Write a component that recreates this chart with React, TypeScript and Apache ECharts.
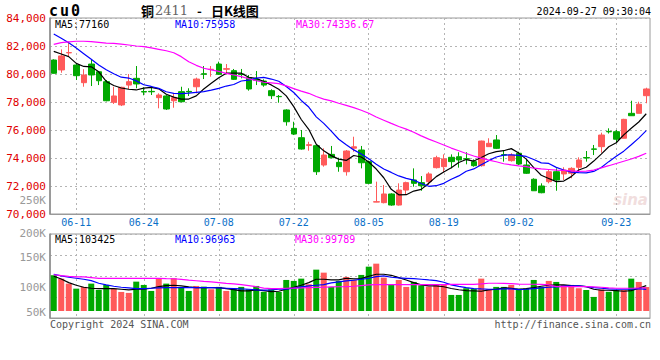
import React, { useEffect, useRef } from 'react';
import * as echarts from 'echarts';

const dates = [
  '06-05','06-06','06-07','06-11','06-12','06-13','06-14','06-17','06-18','06-19','06-20','06-21','06-24','06-25','06-26','06-27','06-28',
  '07-01','07-02','07-03','07-04','07-05','07-08','07-09','07-10','07-11','07-12','07-15','07-16','07-17','07-18','07-19','07-22','07-23','07-24','07-25','07-26','07-29','07-30','07-31',
  '08-01','08-02','08-05','08-06','08-07','08-08','08-09','08-12','08-13','08-14','08-15','08-16','08-19','08-20','08-21','08-22','08-23','08-26','08-27','08-28','08-29','08-30',
  '09-02','09-03','09-04','09-05','09-06','09-09','09-10','09-11','09-12','09-13','09-18','09-19','09-20','09-23','09-24','09-25','09-26','09-27',
];

const tickDates = ['06-11', '06-24', '07-08', '07-22', '08-05', '08-19', '09-02', '09-23'];

// [open, close, low, high]
const ohlc = [
  [81000,80050,80030,81050],[80290,81290,80090,81760],[81510,81530,81240,82310],[80640,79880,79570,80760],[79380,79930,79090,80340],
  [80710,79930,79140,81000],[80160,79520,79210,80210],[79450,78090,78050,79570],[77980,78430,77860,79090],[77790,79050,77710,79090],
  [79210,79450,78930,80000],[79690,79290,78980,80570],[78750,78710,78480,79050],[78760,78730,78500,79050],[78310,78500,77550,78620],
  [78430,77500,77430,78500],[78090,78310,77590,78620],[78740,78020,77980,79090],[78760,78720,78430,78980],[79090,79640,78620,79740],
  [80020,79980,79640,80570],[80320,80340,79810,80570],[80710,79980,79930,80880],[80340,80380,79980,80710],[80240,79620,79570,80360],
  [80000,79960,79690,80360],[79740,78930,78810,79930],[79600,79560,79210,80210],[79500,79210,79090,79620],[78810,78450,78210,78910],
  [78400,78380,77950,78500],[77430,76590,76310,77480],[76120,75710,75640,76590],[75450,74640,74600,76000],[74900,74950,74520,75160],
  [74880,73020,72790,74980],[73500,74210,73380,74690],[74260,74020,73980,74860],[73690,73380,73020,74020],[73020,74500,72740,74570],
  [74700,74800,74450,75520],[74570,73660,73260,74860],[73740,72190,72140,73810],[70850,70880,70840,72310],[70810,71430,70760,72070],
  [71430,70640,70590,71480],[70640,71710,70600,72190],[71710,72240,71360,72310],[72430,72190,71950,73260],[72240,72020,71660,72710],
  [72310,72860,72070,72980],[73310,74020,73250,74160],[73380,73930,72980,74260],[74050,73740,73260,74260],[74090,73860,73310,74410],
  [73950,73920,73550,74410],[73740,73450,73380,73900],[73450,75210,73380,75240],[74810,75050,74800,75410],[75290,74690,74640,75640],
  [74240,74210,73740,74570],[73810,74210,73740,74340],[74340,73570,73500,74450],[73500,72910,72860,73910],[72480,71660,71650,72550],
  [72000,71520,71480,72190],[72310,73020,72190,73190],[73020,72430,71660,73260],[72860,73140,72430,73340],[72910,73260,72550,73340],
  [73340,73860,73140,74050],[74030,74000,73740,74500],[74650,74620,74210,74930],[74810,75640,74380,75810],[75900,75870,75750,76120],
  [75880,75340,75090,76000],[75410,76760,75400,76800],[77190,77020,77000,78090],[77190,77840,77190,78020],[78450,78930,77910,79020],
];

const ma5 = [
  81620,81430,81240,80760,80540,80510,80160,79470,79180,79000,
  78910,78860,78990,79050,78940,78550,78350,78210,78210,78440,
  78930,79340,79730,80060,80060,80060,79770,79690,79460,79220,
  78910,78440,77670,76750,76050,74980,74510,74170,73920,73830,
  74180,74070,73710,73210,72590,71760,71370,71380,71640,71760,
  72200,72670,73000,73310,73680,73890,73780,74040,74300,74460,
  74520,74670,74350,73920,73310,72770,72540,72310,72350,72670,
  73140,73340,73780,74280,74800,75090,75650,76130,76570,77160,
];
const ma10 = [
  82860,82560,82230,81850,81450,81050,80650,80300,80020,79770,
  79710,79510,79230,79110,78970,78730,78610,78600,78630,78690,
  78740,78850,78970,79140,79250,79500,79560,79710,79760,79640,
  79480,79110,78680,78110,77640,76940,76470,75920,75340,74940,
  74580,74290,73940,73560,73210,72970,72720,72540,72420,72180,
  71980,72020,72190,72480,72720,73050,73220,73520,73810,74070,
  74210,74230,74190,74110,73890,73650,73610,73330,73140,72990,
  72960,72940,73040,73320,73740,74120,74490,74950,75420,75958,
];
const ma30 = [
  82120,82240,82290,82340,82340,82310,82260,82210,82190,82140,
  82070,82000,81950,81860,81760,81660,81520,81240,80880,80620,
  80410,80290,80190,80050,79930,79810,79660,79520,79410,79370,
  79310,79150,78960,78780,78620,78390,78210,78080,77910,77760,
  77600,77410,77200,76930,76700,76470,76250,76060,75840,75580,
  75350,75140,74930,74710,74520,74320,74140,73990,73850,73730,
  73590,73510,73440,73380,73270,73220,73180,73130,73120,73080,
  73050,73060,73140,73300,73450,73610,73770,73930,74120,74337,
];

const volumes = [
  120700,115000,106700,98300,101200,106700,96200,104500,98300,92800,
  91200,110000,104500,94500,115700,106700,115700,100700,94500,102800,
  101700,97300,101200,94500,98300,101200,97300,102800,93000,97300,
  92800,112800,111200,115000,105700,130000,125000,101200,111200,117800,
  112800,121200,135000,140000,116700,105700,112800,101200,109500,104000,
  101700,105700,105000,87800,87800,99000,98000,115000,97300,101200,
  101200,104500,98300,98300,112800,101200,111200,109500,104500,104500,
  99000,96000,84500,97000,93000,95600,96000,115000,109500,101000,
];
const volMa5 = [
  119000,114500,108400,104000,100600,99000,98400,98400,98400,97300,
  96200,97300,97300,99000,101700,103400,104000,102800,101200,100000,
  100000,100000,100000,98400,96700,94500,94500,96200,95000,93400,
  94000,97300,100600,104000,108400,114000,114000,112800,112800,115600,
  114500,115000,119000,122300,122300,120600,116700,112800,108400,104500,
  102800,102800,101500,98500,96500,95000,94500,94000,96200,97300,
  99500,99000,97300,98400,100000,102300,104000,104500,104500,103400,
  102800,101700,97300,95600,95600,95000,94000,95000,99000,103425,
];
const volMa10 = [
  122300,119500,117300,115700,114000,111700,107300,104500,102300,100600,
  99500,98400,98400,99000,99500,100000,100000,100000,100000,100000,
  100000,100000,99500,99000,98400,97800,97300,96200,96000,96200,
  97300,97300,99000,101200,102800,104000,105000,107800,109500,111200,
  112300,114000,115600,118400,119500,117300,116200,115600,115000,114000,
  112800,111700,109000,104500,102000,100000,98400,97800,97300,97300,
  97800,97800,96700,97300,98400,99500,100600,101200,102500,102800,
  102800,101700,100000,99000,97800,97300,97300,97300,98400,96963,
];
const volMa30 = [
  121500,120000,118700,118100,117800,116700,115600,115600,115600,115600,
  115600,115600,115600,115600,115300,115000,114800,113700,112400,111500,
  110400,109500,108400,107000,106200,105000,103400,101500,99200,98400,
  98400,99000,99300,99500,100000,100300,100600,101200,101500,101700,
  102300,103400,104500,104900,104900,105000,105000,105000,105000,105000,
  105000,105000,105000,105400,105500,105500,105500,106200,107300,107300,
  107000,106700,106000,105600,105600,105300,104500,101700,101700,101700,
  101700,101700,101200,100600,99500,99000,99000,99000,99400,99789,
];

const headerCode = ['c', 'u', '0'];
const timestamp = '2024-09-27 09:30:04';
const priceMaLabels = ['MA5:77160', 'MA10:75958', 'MA30:74336.67'];
const volMaLabels = ['MA5:103425', 'MA10:96963', 'MA30:99789'];

const UP = '#ff5a5a';
const DOWN = '#00a800';
const MONO = "'DejaVu Sans Mono', monospace";
const DASH = { color: '#b4b4b4', type: [2, 3] as number[], width: 1 };
const MA_COLORS = ['#000000', '#0000ff', '#ff00ff'];

const isTick = (_i: number, v: string) => tickDates.indexOf(v) >= 0;

export default function App() {
  const ref = useRef<HTMLDivElement>(null);
  useEffect(() => {
    if (!ref.current) return;
    const chart = echarts.init(ref.current, null, { renderer: 'svg' });
    const lineS = (data: number[], color: string, x: number, y: number) => ({
      type: 'line', xAxisIndex: x, yAxisIndex: y, data, symbol: 'none', silent: true,
      lineStyle: { color, width: 1.2 }, z: 3,
    });
    const text = (t: string, x: number, y: number, fill: string, size = 10, align = 'left') => ({
      type: 'text', x, y, silent: true,
      style: { text: t, fill, font: `${size}px ${MONO}`, align, verticalAlign: 'middle' },
    });
    chart.setOption({
      animation: false,
      backgroundColor: '#fff',
      grid: [
        { left: 50, top: 18, width: 600, height: 196, show: true, borderColor: '#9a9a9a', borderWidth: 1 },
        { left: 50, top: 234, width: 600, height: 84, show: true, borderColor: '#9a9a9a', borderWidth: 1 },
        { left: 50, top: 234, width: 600, height: 77 },
        { left: 50, top: 227.7, width: 600, height: 90 },
      ],
      xAxis: [
        {
          type: 'category', gridIndex: 0, data: dates, boundaryGap: true,
          axisLine: { lineStyle: { color: '#9a9a9a' } }, axisTick: { show: false },
          axisLabel: { interval: isTick, color: '#0a70c8', fontSize: 10, fontFamily: MONO, margin: 3 },
          splitLine: { show: true, interval: isTick, alignWithLabel: true, lineStyle: DASH },
        },
        {
          type: 'category', gridIndex: 1, data: dates, boundaryGap: true,
          axisLine: { lineStyle: { color: '#9a9a9a' } }, axisTick: { show: false }, axisLabel: { show: false },
          splitLine: { show: true, interval: isTick, alignWithLabel: true, lineStyle: DASH },
        },
        { type: 'category', gridIndex: 2, data: dates, boundaryGap: true, show: false },
        { type: 'category', gridIndex: 3, data: dates, boundaryGap: true, show: false },
      ],
      yAxis: [
        {
          type: 'value', gridIndex: 0, min: 70000, max: 84000, interval: 2000,
          axisLine: { show: true, lineStyle: { color: '#8a8a8a', width: 1.5 } }, axisTick: { show: false },
          axisLabel: { color: '#e00000', fontSize: 11, fontFamily: MONO, margin: 4, padding: [0, 0, 3, 0] },
          splitLine: { show: true, lineStyle: DASH },
        },
        {
          type: 'value', gridIndex: 1, min: 0, max: 4, interval: 1,
          axisLine: { show: true, lineStyle: { color: '#8a8a8a', width: 1.5 } }, axisTick: { show: false },
          axisLabel: { show: false }, splitLine: { show: true, lineStyle: DASH },
        },
        { type: 'value', gridIndex: 2, min: 61000, max: 189500, show: false, splitLine: { show: false } },
        {
          type: 'value', gridIndex: 3, min: 50000, max: 200000, interval: 50000,
          axisLine: { show: false }, axisTick: { show: false }, splitLine: { show: false },
          axisLabel: {
            color: '#999', fontSize: 11, fontFamily: MONO, margin: 4,
            formatter: (v: number) => `${v / 1000}K`,
            verticalAlignMinLabel: 'bottom', verticalAlignMaxLabel: 'top',
          },
        },
      ],
      series: [
        {
          type: 'candlestick', xAxisIndex: 0, yAxisIndex: 0, data: ohlc, barWidth: 6,
          itemStyle: { color: UP, color0: DOWN, borderColor: UP, borderColor0: DOWN, borderWidth: 1 },
          z: 2,
        },
        lineS(ma5, MA_COLORS[0], 0, 0),
        lineS(ma10, MA_COLORS[1], 0, 0),
        lineS(ma30, MA_COLORS[2], 0, 0),
        {
          type: 'bar', xAxisIndex: 2, yAxisIndex: 2, barWidth: 6, clip: true,
          data: volumes.map((v, i) => ({
            value: v,
            itemStyle: { color: ohlc[i][1] >= ohlc[i][0] ? UP : DOWN },
          })),
          z: 2,
        },
        lineS(volMa5, MA_COLORS[0], 2, 2),
        lineS(volMa10, MA_COLORS[1], 2, 2),
        lineS(volMa30, MA_COLORS[2], 2, 2),
      ],
      graphic: [
        ...headerCode.map((ch, i) => ({
          type: 'text', x: 49 + i * 11, y: 11, silent: true,
          style: { text: ch, fill: '#000', font: `bold 15px ${MONO}`, verticalAlign: 'middle' },
        })),
        { type: 'text', x: 141, y: 10, silent: true,
          style: {
            text: '{a|铜}{b|2411}{c|-}{a|日K线图}', verticalAlign: 'middle',
            rich: {
              a: { fontSize: 13, fontFamily: "'Noto Sans CJK SC'", fontWeight: 'bold', fill: '#000', color: '#000' },
              b: { fontSize: 13, fontFamily: "'DejaVu Serif'", fill: '#666', color: '#666', padding: [0, 0, 0, 1] },
              c: { fontSize: 13, fontFamily: "'Noto Sans CJK SC'", fontWeight: 'bold', fill: '#000', color: '#000', padding: [0, 9, 0, 9] },
            },
          } },
        text(timestamp, 651, 11, '#000', 10, 'right'),
        text(priceMaLabels[0], 55, 24, MA_COLORS[0]),
        text(priceMaLabels[1], 175, 24, MA_COLORS[1]),
        text(priceMaLabels[2], 296, 24, MA_COLORS[2]),
        text(volMaLabels[0], 55, 239, MA_COLORS[0]),
        text(volMaLabels[1], 175, 239, MA_COLORS[1]),
        text(volMaLabels[2], 295, 239, MA_COLORS[2]),
        text('250K', 46, 200, '#9a9a9a', 11, 'right'),
        text('Copyright 2024 SINA.COM', 50, 324, '#555'),
        text('http://finance.sina.com.cn', 651, 324, '#555', 10, 'right'),
        { type: 'text', x: 648, y: 200, silent: true,
          style: { text: 'sina', fill: '#eed6d6', font: `italic bold 15px 'DejaVu Sans'`, align: 'right', verticalAlign: 'middle', opacity: 0.8 } },
      ],
    });
    return () => chart.dispose();
  }, []);
  return <div ref={ref} style={{ position: 'fixed', left: 0, top: 0, width: 660, height: 360 }} />;
}
